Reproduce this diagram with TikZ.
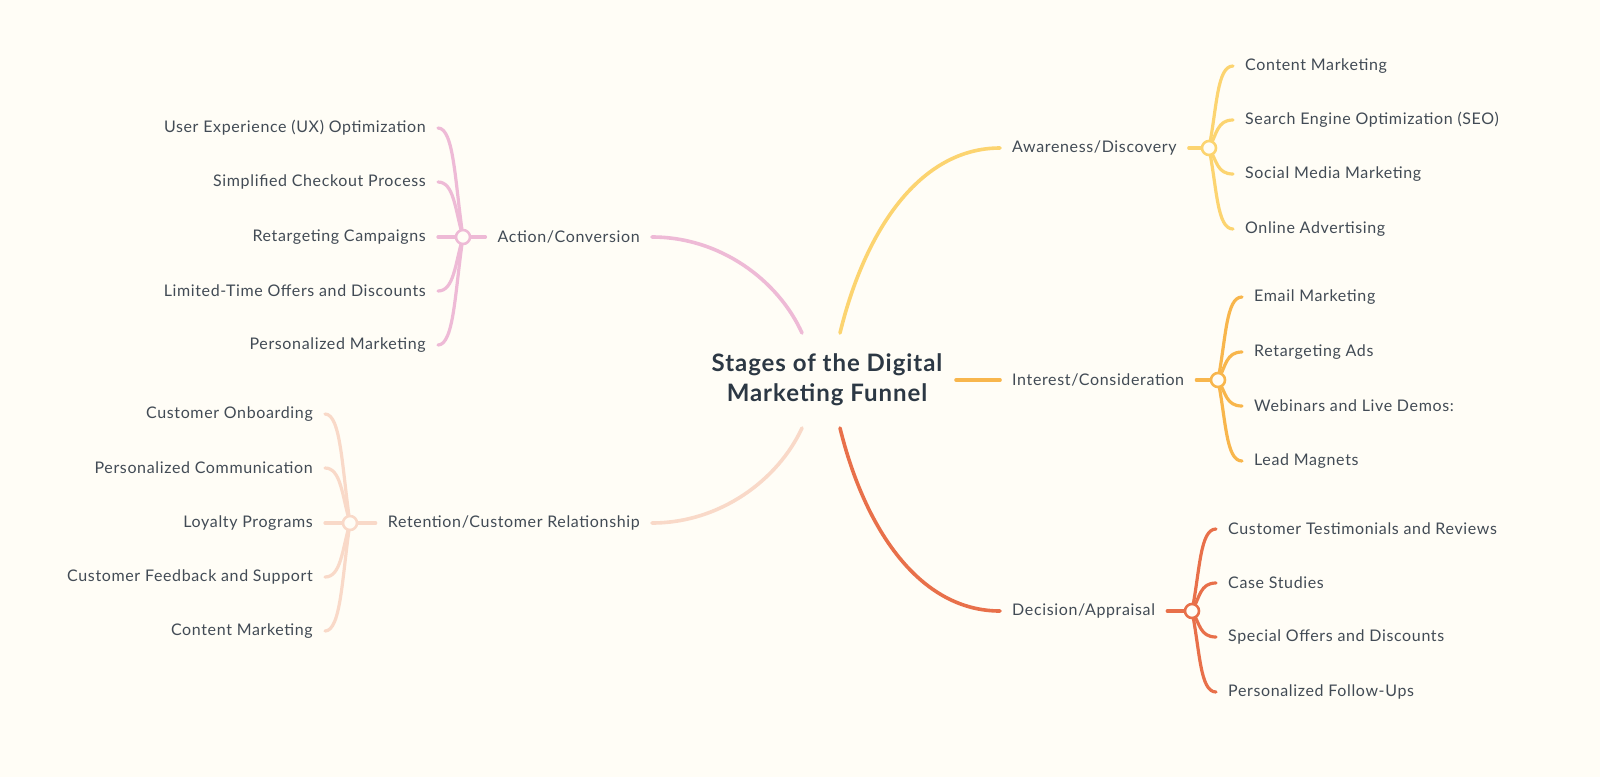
\documentclass[tikz,border=0pt]{standalone}
\usepackage{fontspec}
\setmainfont{Lato}[LetterSpace=4]
\usetikzlibrary{calc}
\definecolor{bg}{HTML}{FFFDF6}
\definecolor{txt}{HTML}{424B55}
\definecolor{ttl}{HTML}{2C3844}
\definecolor{cAw}{HTML}{FCD470}
\definecolor{cIn}{HTML}{F8B64C}
\definecolor{cDe}{HTML}{E8704A}
\definecolor{cAc}{HTML}{EEBAD6}
\definecolor{cRe}{HTML}{F9D9C8}
\tikzset{
  leaf/.style={font=\fontsize{16}{19}\selectfont, text=txt, inner xsep=12pt, inner ysep=2pt},
  knob/.style={circle, draw=#1, line width=2.6pt, fill=bg, inner sep=0pt, minimum size=14pt},
  branch/.style={draw=#1, line width=3.2pt, line cap=round},
  trunk/.style={draw=#1, line width=3.6pt, line cap=round},
}
\begin{document}
\begin{tikzpicture}[x=1pt,y=-1pt]
\fill[bg] (0,0) rectangle (1600,777);
\useasboundingbox (0,0) rectangle (1600,777);

% root
\node[font=\fontsize{24}{30}\selectfont\bfseries, text=ttl, align=center] (root) at (827,380) {Stages of the Digital\\Marketing Funnel};
\coordinate (sAw) at (840,333);
\coordinate (sIn) at (956,380);
\coordinate (sDe) at (840,428);
\coordinate (sAc) at (802,333);
\coordinate (sRe) at (802,428);

% main nodes
\node[leaf, anchor=west] (aw) at (1000,148) {Awareness/Discovery};
\node[leaf, anchor=west] (in) at (1000,380) {Interest/Consideration};
\node[leaf, anchor=west] (de) at (1000,611) {Decision/Appraisal};
\node[leaf, anchor=east] (ac) at (652,237) {Action/Conversion};
\node[leaf, anchor=east] (re) at (652,523) {Retention/Customer Relationship};

% trunks
\draw[trunk=cAw] (sAw) .. controls (865,230) and (920,148) .. (aw.west);
\draw[trunk=cIn] (sIn) -- (in.west);
\draw[trunk=cDe] (sDe) .. controls (865,530) and (920,611) .. (de.west);
\draw[trunk=cAc] (sAc) .. controls (778,280) and (720,237) .. (ac.east);
\draw[trunk=cRe] (sRe) .. controls (778,480) and (720,523) .. (re.east);

% knob centres
\coordinate (kaw) at (1209,148);
\coordinate (kin) at (1218,380);
\coordinate (kde) at (1192,611);
\coordinate (kac) at (463,237);
\coordinate (kre) at (350,523);

% stems
\draw[branch=cAw] (aw.east) -- (kaw);
\draw[branch=cIn] (in.east) -- (kin);
\draw[branch=cDe] (de.east) -- (kde);
\draw[branch=cAc] (ac.west) -- (kac);
\draw[branch=cRe] (re.west) -- (kre);

% Awareness children
\foreach \yy/\lbl [count=\i] in {66/Content Marketing, 120/Search Engine Optimization (SEO), 174/Social Media Marketing, 229/Online Advertising} {
  \node[leaf, anchor=west] (aw\i) at (1233,\yy) {\lbl};
  \draw[branch=cAw] (kaw) .. controls +(8,{(\yy-148)*0.5}) and +(-16,0) .. (aw\i.west);
}
% Interest children
\foreach \yy/\lbl [count=\i] in {297/Email Marketing, 352/Retargeting Ads, 406/Webinars and Live Demos:, 461/Lead Magnets} {
  \node[leaf, anchor=west] (in\i) at (1242,\yy) {\lbl};
  \draw[branch=cIn] (kin) .. controls +(8,{(\yy-380)*0.5}) and +(-16,0) .. (in\i.west);
}
% Decision children
\foreach \yy/\lbl [count=\i] in {529/Customer Testimonials and Reviews, 583/Case Studies, 637/Special Offers and Discounts, 692/Personalized Follow-Ups} {
  \node[leaf, anchor=west] (de\i) at (1216,\yy) {\lbl};
  \draw[branch=cDe] (kde) .. controls +(8,{(\yy-611)*0.5}) and +(-16,0) .. (de\i.west);
}
% Action children
\foreach \yy/\lbl [count=\i] in {128/User Experience (UX) Optimization, 182/Simplified Checkout Process, 237/Retargeting Campaigns, 291/Limited-Time Offers and Discounts, 345/Personalized Marketing} {
  \node[leaf, anchor=east] (ac\i) at (438,\yy) {\lbl};
  \draw[branch=cAc] (kac) .. controls +(-8,{(\yy-237)*0.5}) and +(16,0) .. (ac\i.east);
}
% Retention children
\foreach \yy/\lbl [count=\i] in {414/Customer Onboarding, 468/Personalized Communication, 523/Loyalty Programs, 577/Customer Feedback and Support, 631/Content Marketing} {
  \node[leaf, anchor=east] (re\i) at (325,\yy) {\lbl};
  \draw[branch=cRe] (kre) .. controls +(-8,{(\yy-523)*0.5}) and +(16,0) .. (re\i.east);
}

% knobs
\node[knob=cAw] (kawn) at (kaw) {};
\node[knob=cIn] (kinn) at (kin) {};
\node[knob=cDe] (kden) at (kde) {};
\node[knob=cAc] (kacn) at (kac) {};
\node[knob=cRe] (kren) at (kre) {};
\end{tikzpicture}
\end{document}
